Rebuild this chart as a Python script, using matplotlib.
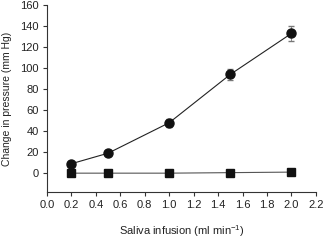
import matplotlib.pyplot as plt

plt.rcParams['font.family'] = ['Liberation Sans', 'DejaVu Sans']
plt.rcParams['mathtext.fontset'] = 'custom'
plt.rcParams['mathtext.rm'] = 'Liberation Sans'

infusion = [0.2, 0.5, 1.0, 1.5, 2.0]
saliva = [9, 19, 48, 94, 133]
saliva_err = [1.5, 1.5, 4, 5, 7]
control = [0, 0, 0, 0.5, 1]
control_err = [0.5, 0.5, 0.5, 0.5, 0.5]

fig = plt.figure(figsize=(3.24, 2.41), dpi=100)
ax = fig.add_axes([0.145, 0.203, 0.83, 0.776])

ax.errorbar(infusion, control, yerr=control_err, color='#555555', lw=0.8,
            marker='s', ms=5.5, mfc='#111111', mec='#111111',
            ecolor='#777777', elinewidth=0.6, capsize=2)
ax.errorbar(infusion, saliva, yerr=saliva_err, color='#222222', lw=0.8,
            marker='o', ms=6.5, mfc='#111111', mec='#111111',
            ecolor='#777777', elinewidth=0.6, capsize=2)

ax.set_xlim(0, 2.2)
ax.set_ylim(-18, 160)
ax.set_xticks([0.0, 0.2, 0.4, 0.6, 0.8, 1.0, 1.2, 1.4, 1.6, 1.8, 2.0, 2.2])
ax.set_yticks([0, 20, 40, 60, 80, 100, 120, 140, 160])
ax.xaxis.set_major_formatter(plt.FormatStrFormatter('%.1f'))
ax.spines['top'].set_visible(False)
ax.spines['right'].set_visible(False)
for s in ['left', 'bottom']:
    ax.spines[s].set_linewidth(0.8)
    ax.spines[s].set_color('#333333')
ax.tick_params(labelsize=8, length=3, width=0.8, color='#333333',
               labelcolor='#222222', pad=3)
ax.set_xlabel('Saliva infusion (ml min$^{-1}$)', fontsize=8, labelpad=9,
              color='#222222')
ax.set_ylabel('Change in pressure (mm Hg)', fontsize=7.5, labelpad=6,
              color='#222222')

fig.savefig('out.png', dpi=100)
